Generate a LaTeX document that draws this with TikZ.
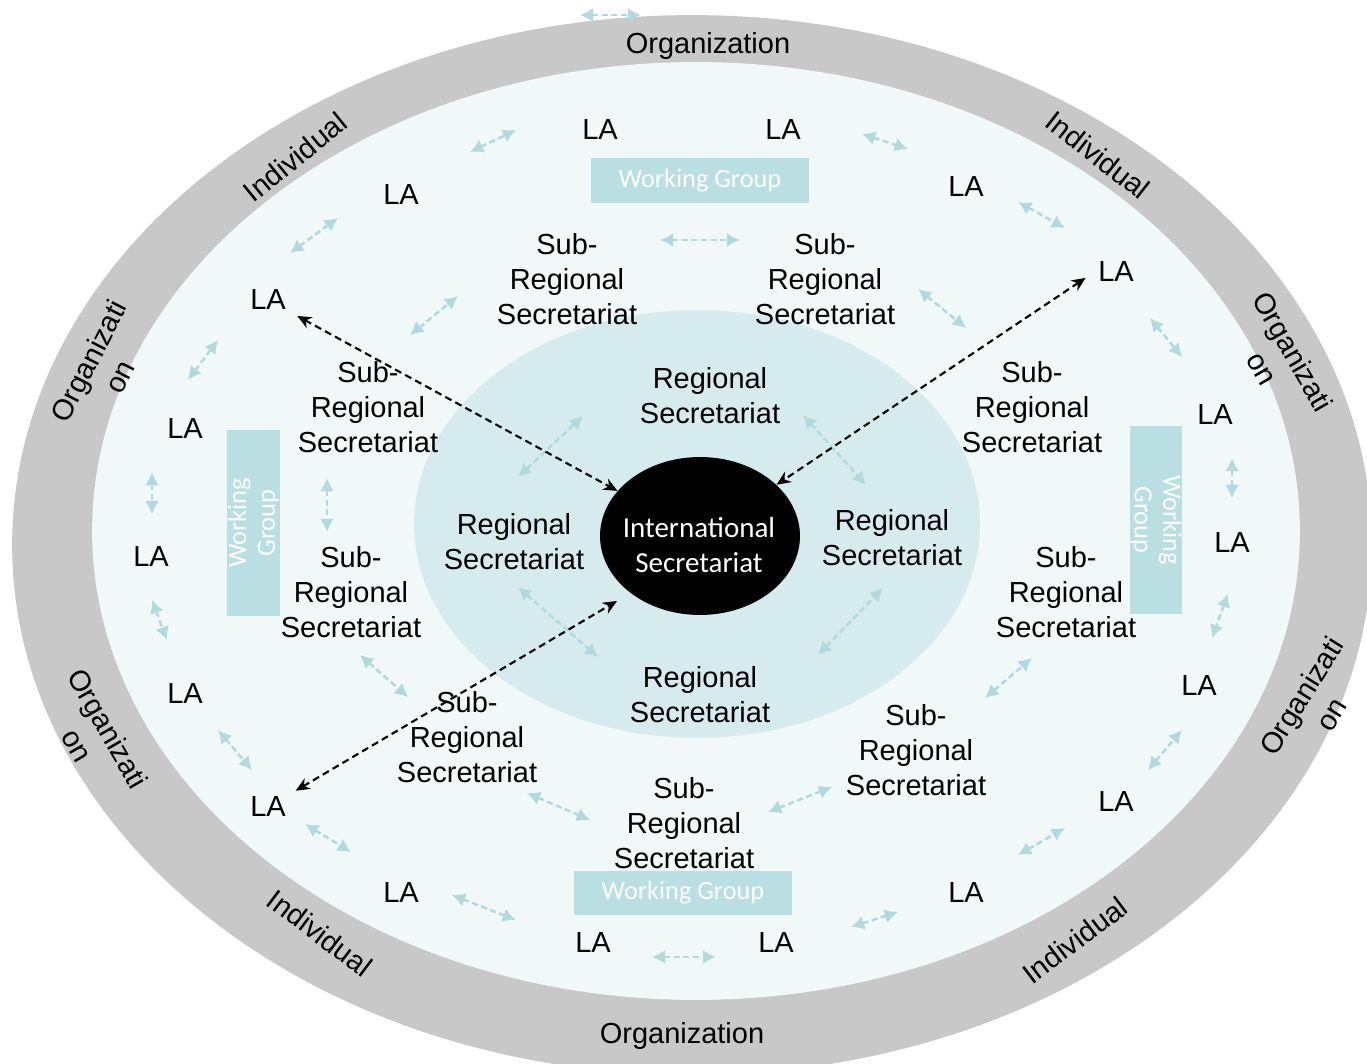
\documentclass[tikz,border=0pt]{standalone}
\usepackage{fontspec}
\setmainfont{Liberation Sans}
\newfontfamily\calib{Carlito}
\usetikzlibrary{arrows.meta,shapes.geometric}
\definecolor{ringgray}{RGB}{200,200,200}
\definecolor{paleblue}{RGB}{240,248,248}
\definecolor{midblue}{RGB}{214,235,238}
\definecolor{wgblue}{RGB}{185,223,226}
\definecolor{arrblue}{RGB}{176,218,222}
\begin{document}
\begin{tikzpicture}[x=0.02cm,y=-0.02cm,
  txt/.style={font=\fontsize{16.5}{19.8}\selectfont, align=center, inner sep=2pt},
  wg/.style={fill=wgblue, text=white, font=\calib\fontsize{15}{16.4}\selectfont, align=center, inner sep=0pt},
  lightarr/.style={draw=arrblue, line width=1.4pt, dash pattern=on 3.5pt off 2pt,
    {Latex[length=7.5pt,width=8pt]}-{Latex[length=7.5pt,width=8pt]}},
  blackarr/.style={draw=black, line width=1.2pt, dash pattern=on 4pt off 2.5pt,
    {Stealth[length=8pt,width=7pt]}-{Stealth[length=8pt,width=7pt]}}
]
\useasboundingbox (0,0) rectangle (1367,1064);
\clip (0,0) rectangle (1367,1064);
\fill[white] (0,0) rectangle (1367,1064);
% rings
\fill[ringgray] (692,545) ellipse [x radius=13.6cm, y radius=10.6cm];
\fill[paleblue] (696,531) ellipse [x radius=12.08cm, y radius=9.38cm];
\fill[midblue] (697,524) ellipse [x radius=5.66cm, y radius=4.28cm];
\node[ellipse, fill=black, minimum width=4cm, minimum height=3.16cm, inner sep=0pt] (IS) at (700,536) {};
\node[txt, text=white, font=\calib\fontsize{16.5}{19.8}\selectfont] (IStext) at (699,545) {International\\Secretariat};

% working groups
\node[wg, minimum width=4.36cm, minimum height=0.9cm] (WG1) at (700,180.5) {Working Group};
\node[wg, minimum width=4.36cm, minimum height=0.88cm] (WG2) at (683,893) {Working Group};
\node[wg, rotate=90, minimum width=3.74cm, minimum height=1.06cm] (WG3) at (253.5,523) {Working\\Group};
\node[wg, rotate=-90, minimum width=3.76cm, minimum height=1.04cm] (WG4) at (1156,520) {Working\\Group};

% LA nodes
\foreach \n/\px/\py in {1/600/130, 2/783/130, 3/401/195, 4/966/187, 5/268/300, 6/1116/272,
  7/185/429, 8/1215/415, 9/151/557, 10/1232/543, 11/185/694, 12/1199/686,
  13/268/807, 14/1116/802, 15/401/893, 16/966/893, 17/593/943, 18/776/943}
  \node[txt] (LA\n) at (\px,\py) {LA};

% light arrows
\foreach \i/\ax/\ay/\bx/\by in {0/580/15/641/15, 1/470/152/516/130, 2/862/134/908/149,
  3/290/253/338/218, 4/1018/202/1065/228, 5/660/240/740/240, 6/410/335/458/296,
  7/918/289/966/328, 8/188/380/218/340, 9/1150/318/1182/357, 10/152/472/152/514,
  11/1232/458/1232/498, 12/327/478/327/532, 13/152/600/167/640, 14/1228/594/1212/638,
  15/518/477/583/416, 16/803/415/866/485, 17/518/587/598/657, 18/818/655/883/588,
  19/360/655/408/697, 20/985/698/1032/658, 21/218/730/252/770, 22/1148/770/1182/730,
  23/527/793/590/820, 24/768/812/832/787, 25/305/824/351/852, 26/1018/855/1065/828,
  27/452/895/516/920, 28/851/927/898/912, 29/652/957/716/957}
{
  \coordinate (A\i) at (\ax,\ay);
  \coordinate (B\i) at (\bx,\by);
  \draw[lightarr] (A\i) -- (B\i);
}

% black arrows
\coordinate (ISsw) at (617,601);
\draw[blackarr, shorten <=5pt] (LA5) -- (IS);
\draw[blackarr, shorten <=6pt] (LA6.west) -- (IS);
\draw[blackarr, shorten <=4pt] (LA13) -- (ISsw);

% sub-regional secretariats
\foreach \n/\px/\py in {1/567/279, 2/825/279, 3/368/407, 4/1032/407, 5/351/592,
  6/1066/592, 7/467/737, 8/916/750, 9/684/823}
  \node[txt] (SR\n) at (\px,\py) {Sub-\\Regional\\Secretariat};

% regional secretariats
\foreach \n/\px/\py in {1/710/396, 2/514/542, 3/892/538, 4/700/695}
  \node[txt] (R\n) at (\px,\py) {Regional\\Secretariat};

% ring labels
\node[txt] (OrgT) at (708,46) {Organization};
\node[txt] (OrgB) at (682,1036) {Organization};
\node[txt, rotate=39] (IndTL) at (295,157) {Individual};
\node[txt, rotate=-38] (IndTR) at (1098,155) {Individual};
\node[txt, rotate=-37] (IndBL) at (320,933) {Individual};
\node[txt, rotate=37] (IndBR) at (1075,940) {Individual};
\node[txt, rotate=63] (OrgLT) at (104,369) {Organizati\\on};
\node[txt, rotate=-60] (OrgRT) at (1278,360) {Organizati\\on};
\node[txt, rotate=58] (OrgRB) at (1316,705) {Organizati\\on};
\node[txt, rotate=-60] (OrgLB) at (93,737) {Organizati\\on};
\end{tikzpicture}
\end{document}
